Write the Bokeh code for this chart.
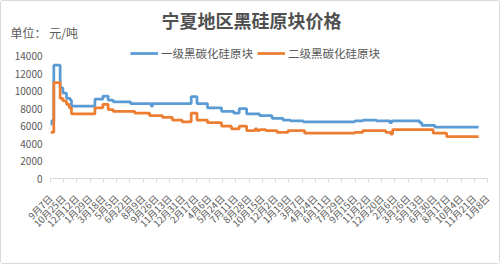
import pandas as pd
from bokeh.plotting import figure
from bokeh.models import (Range1d, FixedTicker, Label, Legend, LegendItem)
from bokeh.embed import file_html
from bokeh.resources import INLINE
import math

title_text = "宁夏地区黑硅原块价格"
unit_text = "单位： 元/吨"
series_names = ["一级黑碳化硅原块", "二级黑碳化硅原块"]

tick_labels = ["9月7日", "10月25日", "12月12日", "1月29日", "3月18日", "5月5日",
               "6月22日", "8月9日", "9月26日", "11月13日", "12月31日", "2月17日",
               "4月6日", "5月24日", "7月11日", "8月28日", "10月15日", "12月2日",
               "1月19日", "3月7日", "4月24日", "6月11日", "7月29日", "9月15日",
               "11月2日", "12月20日", "2月6日", "3月26日", "5月13日", "6月30日",
               "8月17日", "10月4日", "11月21日", "1月8日"]
start_date = "2013-09-07"
tick_step_days = 48

# level-1 price change points (date, yuan/ton)
grade1_dates = ["2013-09-07", "2013-09-10", "2013-09-19", "2013-10-12", "2013-10-22",
                "2013-11-04", "2013-11-17", "2013-11-22", "2014-02-15", "2014-03-16",
                "2014-04-04", "2014-04-22", "2014-06-24", "2014-09-07", "2014-09-12",
                "2015-01-30", "2015-02-20", "2015-03-30", "2015-05-20", "2015-07-03",
                "2015-07-23", "2015-08-19", "2015-10-05", "2015-11-19", "2015-12-29",
                "2016-01-25", "2016-03-11", "2016-09-14", "2016-10-13", "2016-12-02",
                "2017-01-19", "2017-01-26", "2017-05-07", "2017-05-15", "2017-07-01",
                "2017-12-07"]
grade1_values = [6200, 6600, 13000, 10400, 9800,
                 9200, 9000, 8300, 9100, 9450,
                 9000, 8800, 8600, 8300, 8600,
                 9400, 8600, 8100, 7700, 7500,
                 8000, 7400, 7200, 6900, 6700,
                 6600, 6500, 6600, 6700, 6600,
                 6400, 6600, 6400, 6100, 5900,
                 5900]

# level-2 price change points (date, yuan/ton)
grade2_dates = ["2013-09-07", "2013-09-19", "2013-10-12", "2013-10-22", "2013-11-04",
                "2013-11-14", "2013-11-22", "2014-02-15", "2014-03-16", "2014-04-04",
                "2014-04-22", "2014-07-09", "2014-09-01", "2014-10-18", "2014-11-23",
                "2014-12-28", "2015-01-30", "2015-02-20", "2015-03-30", "2015-05-20",
                "2015-06-25", "2015-07-23", "2015-08-19", "2015-09-19", "2015-09-26",
                "2015-10-05", "2015-10-27", "2015-12-07", "2016-01-16", "2016-03-16",
                "2016-09-14", "2016-10-13", "2017-01-04", "2017-01-22", "2017-01-29",
                "2017-06-25", "2017-08-13", "2017-12-07"]
grade2_values = [5300, 11000, 9200, 8900, 8500,
                 8100, 7400, 8100, 8500, 7900,
                 7700, 7500, 7200, 7000, 6700,
                 6500, 7500, 6700, 6400, 6000,
                 5700, 6000, 5500, 5700, 5500,
                 5600, 5500, 5300, 5500, 5200,
                 5300, 5500, 5300, 5100, 5600,
                 5200, 4800, 4800]

y_ticks = [0, 2000, 4000, 6000, 8000, 10000, 12000, 14000]

base = pd.Timestamp(start_date)
def to_days(ds):
    return [(pd.Timestamp(d) - base).days for d in ds]

g1_x = to_days(grade1_dates)
g2_x = to_days(grade2_dates)
tick_pos = [i * tick_step_days for i in range(len(tick_labels))]

FONT = "Noto Sans CJK SC"
GREY = "#595959"

# frame spans 135 px vertically; the top tick (14000) sits 123 px above the axis
y_top = y_ticks[-1] * 135 / 123

p = figure(width=500, height=264, output_backend="svg", toolbar_location=None, title=None,
           x_range=Range1d(tick_pos[0], tick_pos[-1]), y_range=Range1d(0, y_top),
           min_border_left=49, min_border_right=14, min_border_top=42, min_border_bottom=87,
           background_fill_color="white", border_fill_color="white",
           styles={"border": "1px solid #d9d9d9", "border-radius": "3px"})
p.outline_line_color = None
p.grid.grid_line_color = None

r1 = p.step(g1_x, grade1_values, mode="after", line_color="#5b9bd5", line_width=2.75)
r2 = p.step(g2_x, grade2_values, mode="after", line_color="#ed7d31", line_width=2.75)

# y axis
ya = p.yaxis[0]
ya.ticker = FixedTicker(ticks=y_ticks)
ya.axis_line_color = None
ya.major_tick_line_color = None
ya.minor_tick_line_color = None
ya.major_tick_out = 0
ya.major_tick_in = 0
ya.major_label_standoff = 8
ya.major_label_text_font = FONT
ya.major_label_text_font_size = "10px"
ya.major_label_text_color = GREY

# x axis
xa = p.xaxis[0]
xa.ticker = FixedTicker(ticks=tick_pos)
xa.major_label_overrides = {t: l for t, l in zip(tick_pos, tick_labels)}
xa.axis_line_color = "#d9d9d9"
xa.major_tick_line_color = "#d9d9d9"
xa.minor_tick_line_color = None
xa.major_tick_out = 4
xa.major_tick_in = 0
xa.major_label_orientation = math.pi / 4
xa.major_label_standoff = 14
xa.major_label_text_font = FONT
xa.major_label_text_font_size = "9.5px"
xa.major_label_text_color = GREY

legend = Legend(items=[LegendItem(label=series_names[0], renderers=[r1]),
                       LegendItem(label=series_names[1], renderers=[r2])],
                orientation="horizontal", location=(80, 117),
                glyph_width=28, glyph_height=14, label_height=14, label_standoff=3,
                spacing=4, padding=0, margin=0,
                label_text_font=FONT, label_text_font_size="11.5px", label_text_color=GREY,
                border_line_color=None, background_fill_alpha=0)
p.add_layout(legend, "center")

# texts above the frame (screen offsets within their header panels)
p.add_layout(Label(x=201, y=25, x_units="screen", y_units="screen", text=title_text,
                   text_align="center", text_baseline="middle", text_font=FONT,
                   text_font_style="bold", text_font_size="18px", text_color="#505050"),
             "above")
p.add_layout(Label(x=-40, y=-14, x_units="screen", y_units="screen", text=unit_text,
                   text_align="left", text_baseline="middle", text_font=FONT,
                   text_font_size="12px", text_color=GREY), "above")

open("out.html", "w").write(file_html(p, INLINE))
